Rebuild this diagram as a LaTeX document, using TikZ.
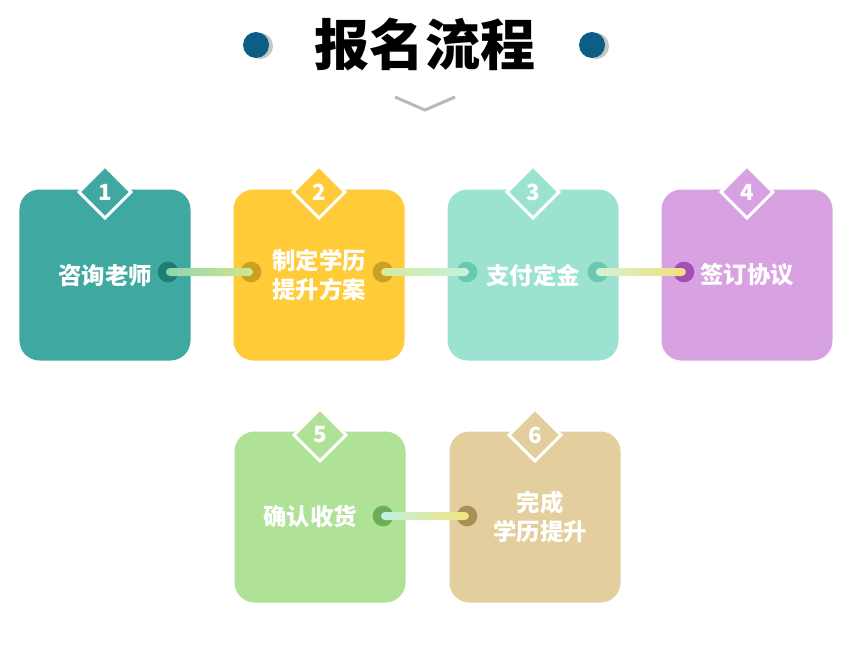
\documentclass[tikz,border=0pt]{standalone}
\usepackage{fontspec}
\newfontfamily\cjk{Noto Sans CJK SC}
\usetikzlibrary{shapes.geometric,calc}

\definecolor{cA}{HTML}{3FA8A1}
\definecolor{cB}{HTML}{FFCB38}
\definecolor{cC}{HTML}{9BE3D0}
\definecolor{cD}{HTML}{D8A1E2}
\definecolor{cE}{HTML}{AFE197}
\definecolor{cF}{HTML}{E3CF9D}
\definecolor{dA}{HTML}{1E7C70}
\definecolor{dB}{HTML}{C9A11F}
\definecolor{dC}{HTML}{6BC9AE}
\definecolor{dD}{HTML}{A24EB6}
\definecolor{dE}{HTML}{6BAE55}
\definecolor{dF}{HTML}{A88F58}
\definecolor{titledot}{HTML}{0B5F86}
\definecolor{lA}{HTML}{8FD4B2}
\definecolor{rA}{HTML}{D3E68C}
\definecolor{lB}{HTML}{D6EB98}
\definecolor{rB}{HTML}{C6F0E2}
\definecolor{lC}{HTML}{D2F3D6}
\definecolor{rC}{HTML}{F2DF78}
\definecolor{lD}{HTML}{BFF0E4}
\definecolor{rD}{HTML}{F3E47C}

\begin{document}
\begin{tikzpicture}[x=0.03cm,y=-0.03cm,
    box/.style={rounded corners=0.6cm,minimum size=5.13cm,inner sep=0pt,text=white,
      font=\cjk\bfseries\fontsize{20}{25}\selectfont,align=center},
    badge/.style={diamond,inner sep=0pt,minimum size=1.6cm,draw=white,line width=2.6pt,
      text=white,font=\cjk\bfseries\fontsize{19}{20}\selectfont},
    dot/.style={circle,inner sep=0pt,minimum size=0.62cm},
    link/.style={rounded corners=0.12cm}]
  \useasboundingbox[fill=white] (0,0) rectangle (850,670);

  % title
  \fill[gray!45] (260,46) circle (0.39cm);
  \fill[titledot] (256,45) circle (0.39cm);
  \fill[gray!45] (596,46) circle (0.39cm);
  \fill[titledot] (592,45) circle (0.39cm);
  \node[font=\cjk\bfseries\fontsize{47}{50}\selectfont] (title) at (425,45) {报名流程};
  \coordinate (va) at (395,97);
  \coordinate (vb) at (425,110);
  \coordinate (vc) at (455,97);
  \draw[gray!55,line width=0.09cm] (va) -- (vb) -- (vc);

  % boxes
  \node[box,fill=cA] (b1) at (105,275) {咨询老师};
  \node[box,fill=cB] (b2) at (319,275) {制定学历\\提升方案};
  \node[box,fill=cC] (b3) at (533,275) {支付定金};
  \node[box,fill=cD] (b4) at (747,275) {签订协议};
  \node[box,fill=cE] (b5) at (320,517) {\hspace*{-0.6cm}确认收货};
  \node[box,fill=cF] (b6) at (535,517) {\hspace*{0.3cm}完成\\\hspace*{0.3cm}学历提升};

  % badges
  \node[badge,fill=cA] (n1) at (105,192) {1};
  \node[badge,fill=cB] (n2) at (319,192) {2};
  \node[badge,fill=cC] (n3) at (533,192) {3};
  \node[badge,fill=cD] (n4) at (747,192) {4};
  \node[badge,fill=cE] (n5) at (320,435) {5};
  \node[badge,fill=cF] (n6) at (535,435) {6};

  % dots
  \node[dot,fill=dA] (d1r) at (168,272) {};
  \node[dot,fill=dB] (d2l) at (251,272) {};
  \node[dot,fill=dB] (d2r) at (383,272) {};
  \node[dot,fill=dC] (d3l) at (467,272) {};
  \node[dot,fill=dC] (d3r) at (598,272) {};
  \node[dot,fill=dD] (d4l) at (684,272) {};
  \node[dot,fill=dE] (d5r) at (383,516) {};
  \node[dot,fill=dF] (d6l) at (467,516) {};

  % links
  \shade[link,left color=lA,right color=rA]
    ($(d1r.center)+(-2,-4)$) rectangle ($(d2l.center)+(2,4)$);
  \shade[link,left color=lB,right color=rB]
    ($(d2r.center)+(-2,-4)$) rectangle ($(d3l.center)+(2,4)$);
  \shade[link,left color=lC,right color=rC]
    ($(d3r.center)+(-2,-4)$) rectangle ($(d4l.center)+(2,4)$);
  \shade[link,left color=lD,right color=rD]
    ($(d5r.center)+(-2,-4)$) rectangle ($(d6l.center)+(2,4)$);
\end{tikzpicture}
\end{document}
